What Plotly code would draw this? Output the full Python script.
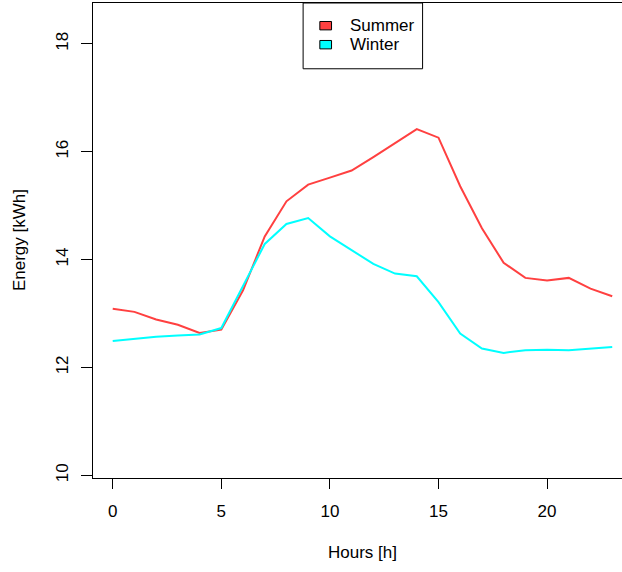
import plotly.graph_objects as go

# Hourly energy use profiles
hours = list(range(24))
summer = [13.09, 13.03, 12.89, 12.79, 12.64, 12.70, 13.43, 14.43, 15.08, 15.39,
          15.52, 15.65, 15.90, 16.16, 16.42, 16.26, 15.36, 14.58, 13.94, 13.66,
          13.61, 13.66, 13.46, 13.32]
winter = [12.49, 12.53, 12.57, 12.59, 12.61, 12.73, 13.52, 14.29, 14.66, 14.77,
          14.43, 14.17, 13.92, 13.74, 13.69, 13.21, 12.63, 12.35, 12.27, 12.32,
          12.33, 12.32, 12.35, 12.38]
series_names = ["Summer", "Winter"]
series_colors = ["#FF4040", "#00FFFF"]
x_ticks = [0, 5, 10, 15, 20]
y_ticks = [10, 12, 14, 16, 18]

W, H = 622, 572
L, T, B = 93.3, 2.5, 94.3
plot_w = W - L
plot_h = H - T - B
FONT = "Liberation Sans, Arial, sans-serif"


def px_x(p):
    return (p - L) / plot_w


def px_y(p):
    return (H - B - p) / plot_h


fig = go.Figure()
for name, vals, col in zip(series_names, [summer, winter], series_colors):
    fig.add_trace(go.Scatter(x=hours, y=vals, mode="lines", name=name,
                             line=dict(color=col, width=2), showlegend=False))

fig.update_layout(
    width=W, height=H,
    margin=dict(l=L, r=0, t=T, b=B),
    paper_bgcolor="white", plot_bgcolor="white",
    font=dict(family=FONT, size=17, color="black"),
    xaxis=dict(range=[-0.908, 23.45], tickvals=x_ticks, ticks="outside",
               ticklen=10, tickcolor="black", showgrid=False, zeroline=False,
               showline=True, linecolor="black", linewidth=1, mirror=True,
               tickfont=dict(size=17), ticklabelstandoff=8),
    yaxis=dict(range=[9.95, 18.757], tickvals=y_ticks, ticks="outside",
               ticklen=11, tickcolor="black", showgrid=False, zeroline=False,
               showline=True, linecolor="black", linewidth=1,
               tickangle=-90, tickfont=dict(size=17), ticklabelstandoff=6),
)

# axis titles
fig.add_annotation(text="Hours [h]", xref="paper", yref="paper",
                   x=px_x(362.6), y=px_y(552), showarrow=False,
                   xanchor="center", yanchor="middle", font=dict(size=17))
fig.add_annotation(text="Energy [kWh]", xref="paper", yref="paper",
                   x=px_x(20), y=px_y(240), showarrow=False, textangle=-90,
                   xanchor="center", yanchor="middle", font=dict(size=17))

# legend box with filled keys
fig.add_shape(type="rect", xref="paper", yref="paper",
              x0=px_x(303.3), x1=px_x(422.7), y0=px_y(68.3), y1=px_y(T),
              line=dict(color="black", width=1), fillcolor="white", layer="above")
key_rows = [25.2, 44.2]
for name, col, yc in zip(series_names, series_colors, key_rows):
    fig.add_shape(type="rect", xref="paper", yref="paper",
                  x0=px_x(320), x1=px_x(331.7), y0=px_y(yc + 4.2), y1=px_y(yc - 4.2),
                  line=dict(color="black", width=1), fillcolor=col, layer="above")
    fig.add_annotation(text=name, xref="paper", yref="paper",
                       x=px_x(348), y=px_y(yc), showarrow=False,
                       xanchor="left", yanchor="middle", font=dict(size=17))

fig.write_html("out.html")
